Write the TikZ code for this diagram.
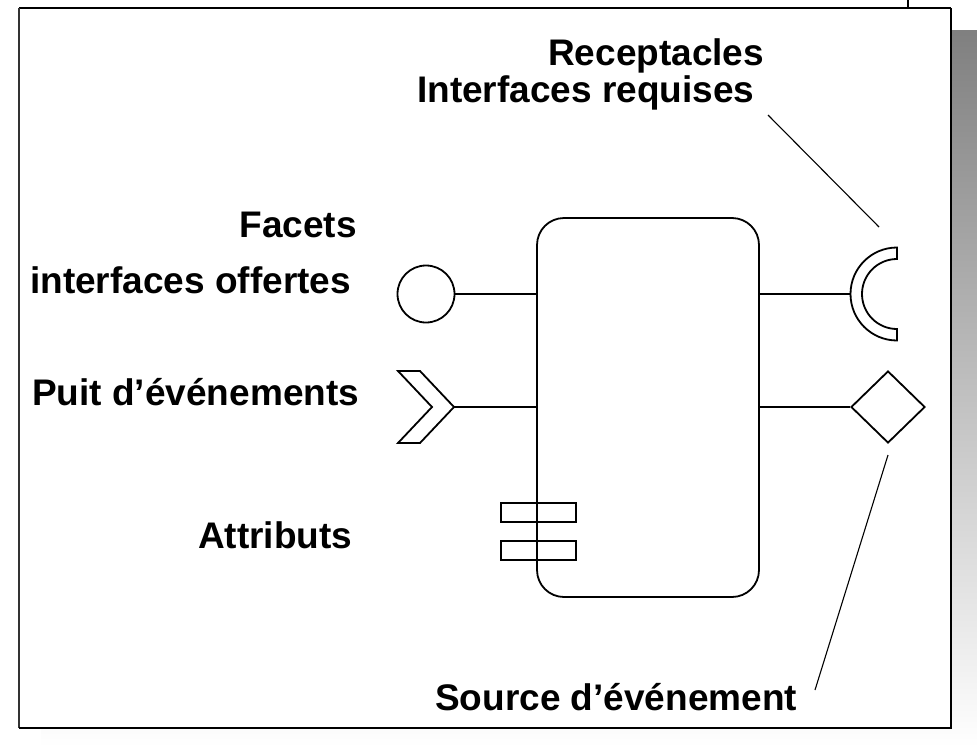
\documentclass[tikz,border=0pt]{standalone}
\usepackage{fontspec}
\setmainfont{Liberation Sans}
\usetikzlibrary{shapes.geometric}
\definecolor{shade}{HTML}{808080}
\begin{document}
\begin{tikzpicture}[x=1pt,y=-1pt,
  lbl/.style={anchor=base west,inner sep=0pt,font=\fontsize{37}{40}\selectfont\bfseries},
  part/.style={draw,line width=1.8pt},
  wire/.style={line width=1.6pt},
  leader/.style={line width=1.1pt}]
\useasboundingbox (0,0) rectangle (977,747);
% drop shadow and sheet
\fill[shade] (41,30) rectangle (977,747);
\fill[white] (19,8) rectangle (951,728);
\draw[shade,line width=2pt] (19,8) -- (951,8);
\draw[black!80,line width=2pt] (19,8) -- (19,728);
\draw[black,line width=1.8pt] (951,8) -- (951,728) -- (19,728);
\draw[black,line width=1.5pt] (908,0) -- (908,8);

% component body
\node[part,rounded corners=27pt,minimum width=222pt,minimum height=379pt,inner sep=0pt] (box) at (648,407.5) {};

% facet
\node[part,circle,minimum size=57pt,inner sep=0pt] (facet) at (426,294) {};
\draw[wire] (facet.east) -- (facet.east -| box.west);

% event sink
\coordinate (sink) at (454,407);
\draw[part,line join=miter] (398,371) -- (420,371) -- (sink) -- (420,443) -- (398,443) -- (432,407) -- cycle;
\draw[wire] (sink) -- (sink -| box.west);

% receptacle
\coordinate (recp) at (850.5,294);
\draw[part] (897,340.5) arc[start angle=90,end angle=270,radius=46.5]
  -- (897,259) arc[start angle=270,end angle=90,radius=35] -- cycle;
\draw[wire] (recp -| box.east) -- (recp);

% event source
\node[part,diamond,minimum width=74pt,minimum height=72pt,inner sep=0pt] (src) at (888,407) {};
\draw[wire] (src.west -| box.east) -- (src.west);

% attributes
\draw[wire] (501,503) rectangle (576,522);
\draw[wire] (501,541) rectangle (576,560);

% labels
\node[lbl] (lrec) at (548,65) {Receptacles};
\node[lbl] (lreq) at (417,102) {Interfaces requises};
\node[lbl,anchor=base east] (lfac) at (357,237) {Facets};
\node[lbl] (loff) at (30,293) {interfaces offertes};
\node[lbl] (lpuit) at (32,405) {Puit d’événements};
\node[lbl] (latt) at (198,548) {Attributs};
\node[lbl] (lsrc) at (435,710) {Source d’événement};

% leader lines
\coordinate (a1) at (768,115);
\coordinate (a2) at (879,227);
\draw[leader] (a1) -- (a2);
\coordinate (b1) at (888,455);
\coordinate (b2) at (815,690);
\draw[leader] (b1) -- (b2);
\end{tikzpicture}
\end{document}
